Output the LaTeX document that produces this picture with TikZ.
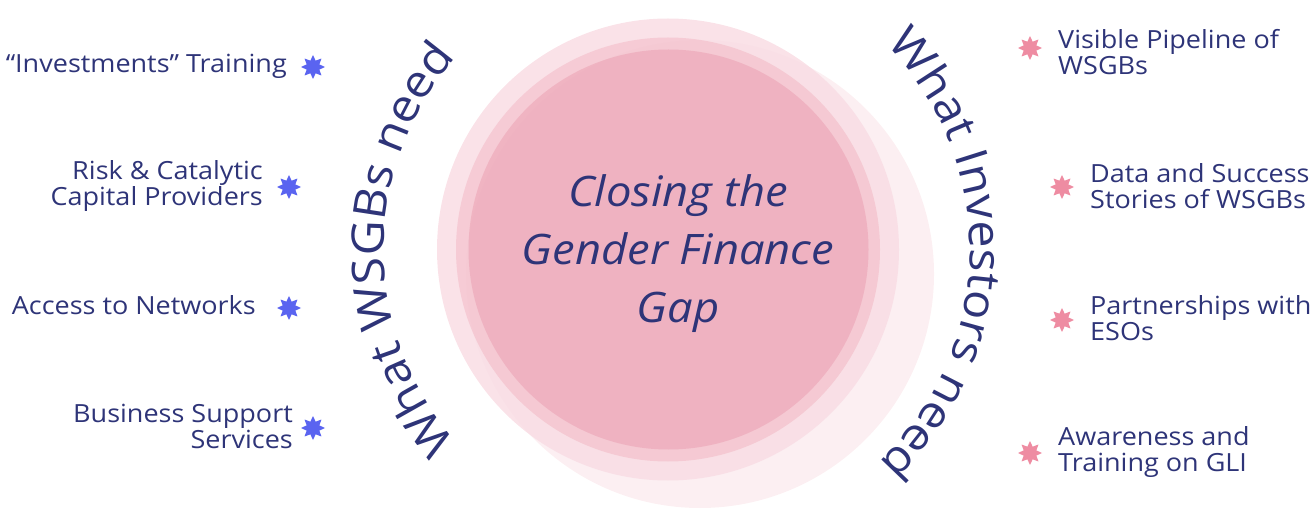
\documentclass[tikz,border=0pt]{standalone}
\usepackage{fontspec}
\setmainfont{Open Sans}[FakeStretch=1.08]
\usetikzlibrary{shapes.geometric,decorations.text}
\definecolor{navy}{HTML}{2E3478}
\definecolor{starblue}{HTML}{5A64F0}
\definecolor{starpink}{HTML}{EE8CA2}
\definecolor{pinkA}{HTML}{FDF2F4}
\definecolor{pinkB}{HTML}{FAE2E8}
\definecolor{pinkC}{HTML}{F6CBD5}
\definecolor{pinkD}{HTML}{F0B4C2}
\definecolor{pinkbase}{HTML}{E87A96}
\newcommand\curvefont{\fontsize{45}{45}\selectfont}
\tikzset{
  x=1pt, y=1pt,
  item/.style={text=navy, font=\fontsize{25}{26}\selectfont, inner sep=0pt},
  itemL/.style={item, anchor=east, align=right},
  itemR/.style={item, anchor=west, align=left},
  starbase/.style={star, star points=8, star point ratio=1.75, minimum size=24pt, inner sep=0pt, draw=none},
  starL/.style={starbase, fill=starblue},
  starR/.style={starbase, fill=starpink},
}
\begin{document}
\begin{tikzpicture}
\useasboundingbox (0,0) rectangle (1311,517);
% circles
\fill[pinkA] (700,243) circle (234);
\fill[pinkB] (668,267.5) circle (231);
\fill[pinkC] (668,267.5) circle (212);
\fill[pinkD] (668.5,267.5) circle (200);
\fill[pinkbase, opacity=0.02] (700,243) circle (234);
% centre text
\node[text=navy, align=center, inner sep=0pt, font=\fontsize{42}{58}\selectfont\itshape] (title) at (678,263) {Closing the\\Gender Finance\\Gap};
% curved labels
\path[decorate, decoration={text along path, text color=navy, text align=center,
  text={|\curvefont|What WSGBs need}}]
  (676,267) ++(234:292) arc[start angle=234, end angle=126, radius=292];
\path[decorate, decoration={text along path, text color=navy, text align=center,
  text={|\curvefont|What Investors need}}]
  (678,267) ++(54:292) arc[start angle=54, end angle=-56, radius=292];
% left items
\node[itemL] (l1) at (287,451) {“Investments” Training};
\node[starL] (s1) at (313,450) {};
\node[itemL] (l2) at (263,331) {Risk \& Catalytic\\Capital Providers};
\node[starL] (s2) at (289,330) {};
\node[itemL] (l3) at (256,212) {Access to Networks};
\node[starL] (s3) at (289,209) {};
\node[itemL] (l4) at (293,91) {Business Support\\Services};
\node[starL] (s4) at (313,89) {};
% right items
\node[starR] (r1s) at (1030,469) {};
\node[itemR] (r1) at (1058,465) {Visible Pipeline of\\WSGBs};
\node[starR] (r2s) at (1062,330) {};
\node[itemR] (r2) at (1090,331) {Data and Success\\Stories of WSGBs};
\node[starR] (r3s) at (1062,197) {};
\node[itemR] (r3) at (1090,199) {Partnerships with\\ESOs};
\node[starR] (r4s) at (1030,64) {};
\node[itemR] (r4) at (1058,65) {Awareness and\\Training on GLI};
\end{tikzpicture}
\end{document}
